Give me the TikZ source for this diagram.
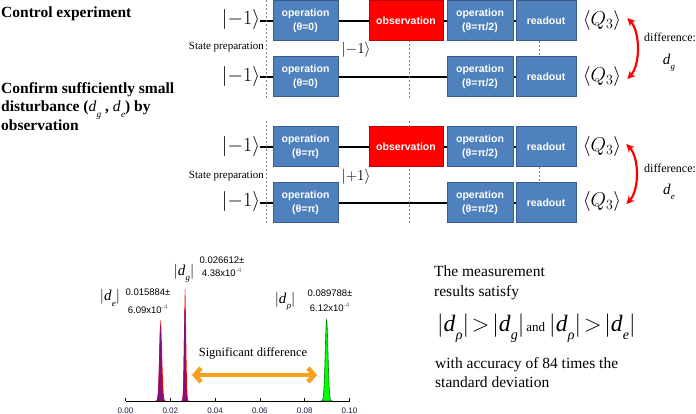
\RequirePackage{fix-cm}
\documentclass[tikz,border=0pt]{standalone}
\usepackage{graphicx}
\usepackage{fontspec}
\setmainfont{Liberation Serif}
\setsansfont{Liberation Sans}
\usetikzlibrary{arrows.meta}
\pgfdeclarelayer{bg}
\pgfsetlayers{bg,main}
\definecolor{boxblue}{RGB}{79,129,189}
\definecolor{boxedge}{RGB}{56,93,138}
\definecolor{obsred}{RGB}{255,0,0}
\definecolor{obsedge}{RGB}{192,0,0}
\definecolor{peakpurple}{RGB}{128,16,128}
\definecolor{peakgreen}{RGB}{0,255,0}
\definecolor{peakgreenedge}{RGB}{0,128,0}
\definecolor{arroworange}{RGB}{250,160,30}
\definecolor{axislabel}{RGB}{30,30,70}
\newcommand\dsub[1]{\textit{d}\kern0.3pt\raisebox{-0.35em}{\scalebox{0.6}{\textit{#1}}}}
\begin{document}
\begin{tikzpicture}[x=1pt,y=-1pt,
  opbox/.style={rectangle, draw=boxedge, line width=1pt, fill=boxblue, minimum width=65pt, minimum height=40pt, inner sep=0pt, text=white, font=\sffamily\bfseries\fontsize{10.5}{14}\selectfont, align=center},
  obsbox/.style={opbox, fill=obsred, draw=obsedge, minimum width=74pt},
  rdbox/.style={opbox, minimum width=60pt},
  wire/.style={line width=2pt, black},
  guide/.style={gray, line width=0.8pt, dash pattern=on 2pt off 2pt},
  ket/.style={inner sep=0pt, font=\fontsize{20}{24}\selectfont},
  smallket/.style={inner sep=0pt, font=\fontsize{15}{18}\selectfont},
  prep/.style={anchor=east, inner sep=0pt, font=\fontsize{11}{13}\selectfont},
  difflabel/.style={anchor=west, inner sep=0pt, font=\fontsize{12}{14}\selectfont},
  dlabel/.style={inner sep=0pt, font=\fontsize{15}{17}\selectfont},
  diffarrow/.style={red, line width=2.2pt, {Stealth[length=8pt,width=8pt]}-{Stealth[length=8pt,width=8pt]}},
  numlabel/.style={align=center, inner sep=0pt, font=\sffamily\fontsize{9.5}{#1}\selectfont},
  abslabel/.style={inner sep=0pt, font=\fontsize{15}{17}\selectfont},
  ticklabel/.style={inner sep=0pt, text=axislabel, font=\sffamily\fontsize{8}{9}\selectfont},
  bigtext/.style={inner sep=0pt, align=left, font=\bfseries\fontsize{15.5}{18}\selectfont},
  bodytext/.style={inner sep=0pt, align=left, font=\fontsize{15.5}{#1}\selectfont}
]
\useasboundingbox (0,0) rectangle (696,414);
\begin{pgfonlayer}{bg}
\fill[white] (0,0) rectangle (696,414);
\end{pgfonlayer}

% ---------- left titles ----------
\node[bigtext, anchor=west] (title1) at (1,14) {Control experiment};
\node[bigtext, anchor=west] (title2) at (1,107) {Confirm sufficiently small\\disturbance ({\mdseries\dsub{g}} , {\mdseries\dsub{e}}) by\\observation};

% ---------- section 1 ----------
\node[ket] (k1a) at (241,20) {$\Bigl|-1\Bigr\rangle$};
\node[ket] (k1b) at (241,77) {$\Bigl|-1\Bigr\rangle$};
\node[opbox] (o1a) at (305.5,21) {operation\\(θ=0)};
\node[obsbox] (obs1) at (406,21) {observation};
\node[opbox, minimum width=66pt] (p1a) at (480,21) {operation\\(θ=π/2)};
\node[rdbox] (r1a) at (546,21) {readout};
\node[opbox] (o1b) at (305.5,77) {operation\\(θ=0)};
\node[opbox, minimum width=66pt] (p1b) at (480,77) {operation\\(θ=π/2)};
\node[rdbox] (r1b) at (546,77) {readout};
\node[ket] (q1a) at (602,21) {$\Bigl\langle Q_3\Bigr\rangle$};
\node[ket] (q1b) at (602,77) {$\Bigl\langle Q_3\Bigr\rangle$};
\node[prep] (sp1) at (264,47) {State preparation};
\node[smallket] (m1) at (356,50) {$\bigl|-1\bigr\rangle$};
\node[difflabel] (df1) at (644,37) {difference:};
\node[dlabel] (dg1) at (669,63) {\dsub{g}};
\coordinate (g1t) at (266,0);
\coordinate (g1b) at (266,98);
\coordinate (h1t) at (409,0);
\coordinate (h1b) at (409,98);
\begin{pgfonlayer}{bg}
\draw[wire] (k1a.east |- o1a.west) -- (r1a.west);
\draw[wire] (k1b.east |- o1b.west) -- (r1b.west);
\draw[guide] (g1t) -- (g1b);
\draw[guide] (h1t) -- (h1b);
\draw[guide] ([xshift=-7pt]r1a.south) -- ([xshift=-7pt]r1b.north);
\end{pgfonlayer}
\draw[diffarrow] ([xshift=6pt,yshift=3pt]q1a.east) .. controls +(13,14) and +(13,-14) .. ([xshift=6pt,yshift=-2pt]q1b.east);

% ---------- section 2 ----------
\node[ket] (k2a) at (241,147) {$\Bigl|-1\Bigr\rangle$};
\node[ket] (k2b) at (241,202) {$\Bigl|-1\Bigr\rangle$};
\node[opbox] (o2a) at (305.5,147) {operation\\(θ=π)};
\node[obsbox] (obs2) at (406,147) {observation};
\node[opbox, minimum width=66pt] (p2a) at (480,147) {operation\\(θ=π/2)};
\node[rdbox] (r2a) at (546,147) {readout};
\node[opbox] (o2b) at (305.5,203) {operation\\(θ=π)};
\node[opbox, minimum width=66pt] (p2b) at (480,203) {operation\\(θ=π/2)};
\node[rdbox] (r2b) at (546,203) {readout};
\node[ket] (q2a) at (602,147) {$\Bigl\langle Q_3\Bigr\rangle$};
\node[ket] (q2b) at (602,202) {$\Bigl\langle Q_3\Bigr\rangle$};
\node[prep] (sp2) at (264,176) {State preparation};
\node[smallket] (m2) at (356,177) {$\bigl|+1\bigr\rangle$};
\node[difflabel] (df2) at (644,168) {difference:};
\node[dlabel] (de2) at (669,192) {\dsub{e}};
\coordinate (g2t) at (266,121);
\coordinate (g2b) at (266,223);
\coordinate (h2t) at (409,121);
\coordinate (h2b) at (409,223);
\begin{pgfonlayer}{bg}
\draw[wire] (k2a.east |- o2a.west) -- (r2a.west);
\draw[wire] (k2b.east |- o2b.west) -- (r2b.west);
\draw[guide] (g2t) -- (g2b);
\draw[guide] (h2t) -- (h2b);
\draw[guide] ([xshift=-7pt]r2a.south) -- ([xshift=-7pt]r2b.north);
\end{pgfonlayer}
\draw[diffarrow] ([xshift=5pt,yshift=3pt]q2a.east) .. controls +(13,14) and +(13,-14) .. ([xshift=5pt,yshift=-2pt]q2b.east);

% ---------- histogram ----------
\fill[red] plot[domain=-4.5:4.5,samples=37] ({160.7+\x*1.36},{401-81*exp(-0.5*(\x)*(\x))}) -- cycle;
\fill[peakpurple] plot[domain=-4:4,samples=33] ({160.3+\x*1.05},{401-77*exp(-0.5*(\x)*(\x))}) -- cycle;
\fill[red] plot[domain=-4.5:4.5,samples=37] ({185.1+\x*0.98},{401-114*exp(-0.5*(\x)*(\x))}) -- cycle;
\fill[peakpurple] plot[domain=-4:4,samples=33] ({184.7+\x*0.8},{401-92*exp(-0.5*(\x)*(\x))}) -- cycle;
\filldraw[fill=peakgreen, draw=peakgreenedge, line width=0.6pt] plot[domain=-4.5:4.5,samples=37] ({326.6+\x*1.37},{401-81*exp(-0.5*(\x)*(\x))}) -- cycle;
\draw[black, line width=0.6pt] (125.5,401) -- (349.5,401);
\foreach \k/\lab in {0/0.00,1/0.02,2/0.04,3/0.06,4/0.08,5/0.10}{
  \draw[black, line width=0.6pt] ({125.5+44.8*\k},401) -- ({125.5+44.8*\k},398);
  \node[ticklabel] (tk\k) at ({125.5+44.8*\k},410.5) {\lab};
}
\node[abslabel] (ae) at (110,298) {$\bigl|$\dsub{e}$\bigr|$};
\node[numlabel=18] (ne) at (148,301) {0.015884±\\6.09x10\textsuperscript{\textcolor{gray}{-4}}};
\node[abslabel] (ag) at (184,273) {$\bigl|$\dsub{g}$\bigr|$};
\node[numlabel=12.7] (ng) at (222,267) {0.026612±\\4.38x10\textsuperscript{\textcolor{gray}{-4}}};
\node[abslabel] (ar) at (285,301) {$\bigl|$\dsub{ρ}$\bigr|$};
\node[numlabel=15] (nr) at (330,300.5) {0.089788±\\6.12x10\textsuperscript{\textcolor{gray}{-4}}};
\node[inner sep=0pt, font=\fontsize{12.5}{14}\selectfont] (sig) at (253,353) {Significant difference};
\coordinate (oa1) at (192,375);
\coordinate (oa2) at (317,375);
\draw[arroworange, line width=4.5pt, {Straight Barb[length=6pt,width=14pt]}-{Straight Barb[length=6pt,width=14pt]}] (oa1) -- (oa2);

% ---------- right text ----------
\node[bodytext=20, anchor=west] (rt1) at (434,283) {The measurement\\results satisfy};
\node[inner sep=0pt, anchor=west] (rt2) at (437,328) {\fontsize{23.5}{28}\selectfont$\biggl|$\dsub{ρ}$\biggr|\!>\!\biggl|$\dsub{g}$\biggr|$\hspace{2pt}{\fontsize{13}{15}\selectfont and}\hspace{4pt}$\biggl|$\dsub{ρ}$\biggr|\!>\!\biggl|$\dsub{e}$\biggr|$};
\node[bodytext=18.4, anchor=west] (rt3) at (435,372.5) {with accuracy of 84 times the\\standard deviation};
\end{tikzpicture}
\end{document}
